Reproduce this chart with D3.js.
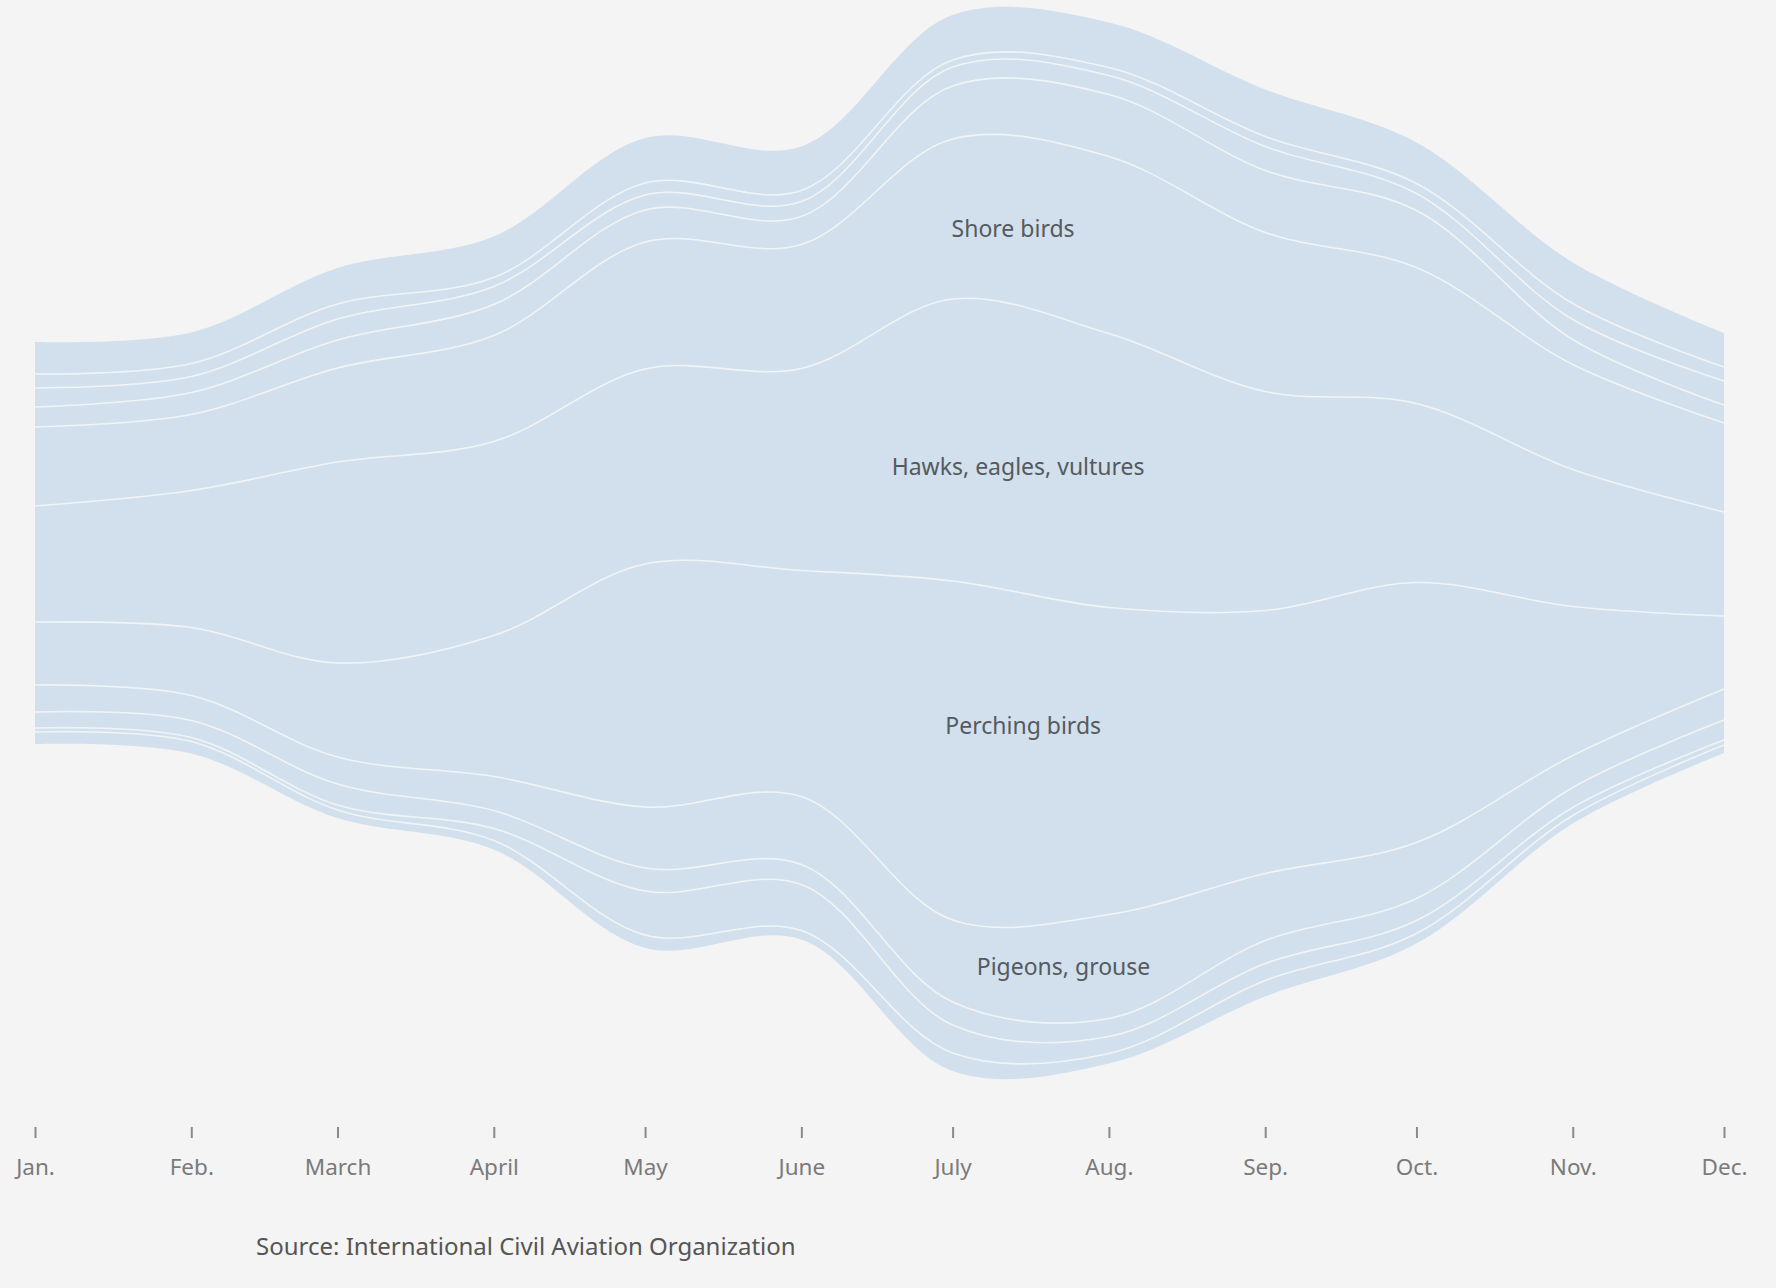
<!DOCTYPE html>
<html>
<head>
<meta charset="utf-8">
<script src="https://cdn.jsdelivr.net/npm/d3@7"></script>
<style>
  html, body { margin: 0; padding: 0; background: #f4f4f4; }
  svg { display: block; }
</style>
</head>
<body>
<svg id="chart" width="1776" height="1288"></svg>
<script>
// ---- DATA (monthly, stacked from bottom layer to top layer) ----
const monthLabels = ["Jan.", "Feb.", "March", "April", "May", "June", "July", "Aug.", "Sep.", "Oct.", "Nov.", "Dec."];
const monthDates = monthLabels.map((_, i) => new Date(2016, i, 1));

const seriesNames = ["Other A", "Other B", "Other C", "Pigeons, grouse", "Perching birds",
                     "Hawks, eagles, vultures", "Shore birds", "Other D", "Other E", "Other F", "Other G"];

const otherA   = [12, 12,  8,  9, 13,  9, 18, 10, 16, 10,  8,  8];
const otherB   = [ 4,  4,  5, 12, 44, 46, 28, 17, 17, 13,  8,  5];
const otherC   = [16, 17, 21, 18, 23, 20, 23, 18, 23, 22, 20, 20];
const pigeons  = [27, 25, 27, 34, 61, 68, 82, 104, 67, 56, 32, 31];
const perching = [63, 68, 94, 141, 243, 226, 339, 307, 263, 260, 149, 73];
const hawks    = [116, 137, 201, 194, 195, 202, 282, 274, 219, 179, 137, 104];
const shore    = [79, 76, 94, 106, 127, 124, 160, 177, 159, 136, 105, 89];
const otherD   = [20, 22, 28, 31, 32, 28, 53, 62, 62, 57, 25, 18];
const otherE   = [19, 16, 21, 18, 15, 15, 19, 19, 24, 17, 20, 24];
const otherF   = [14, 13, 15,  9, 12, 11,  7,  8, 10, 10, 16, 14];
const otherG   = [32, 31, 36, 41, 45, 44, 45, 45, 47, 41, 41, 34];

const seriesValues = [otherA, otherB, otherC, pigeons, perching, hawks, shore, otherD, otherE, otherF, otherG];

const layerLabels = ["Shore birds", "Hawks, eagles, vultures", "Perching birds", "Pigeons, grouse"];
const sourceText = "Source: International Civil Aviation Organization";

// ---- BUILD TABLE ----
const table = monthDates.map((d, i) => {
  const row = { date: d };
  seriesNames.forEach((n, k) => { row[n] = seriesValues[k][i]; });
  return row;
});

// ---- LAYOUT ----
const svg = d3.select("#chart");
const centerY = 543;

const x = d3.scaleTime()
  .domain([monthDates[0], monthDates[monthDates.length - 1]])
  .range([35, 1724]);

const y = d3.scaleLinear()
  .domain([-543, 543])
  .range([centerY + 543, centerY - 543]);

const stack = d3.stack()
  .keys(seriesNames)
  .order(d3.stackOrderNone)
  .offset(d3.stackOffsetSilhouette);
const layers = stack(table);

const curve = d3.curveCatmullRom.alpha(0.5);

const area = d3.area()
  .x(d => x(d.data.date))
  .y0(d => y(d[0]))
  .y1(d => y(d[1]))
  .curve(curve);

const topLine = d3.line()
  .x(d => x(d.data.date))
  .y(d => y(d[1]))
  .curve(curve);

const fillColor = "#d1e0ec";
const sepColor = "#f0f4f7";

svg.append("g").selectAll("path")
  .data(layers)
  .join("path")
  .attr("d", area)
  .attr("fill", fillColor);

// interior separators (top boundary of every layer except the topmost)
svg.append("g").selectAll("path")
  .data(layers.slice(0, layers.length - 1))
  .join("path")
  .attr("d", topLine)
  .attr("fill", "none")
  .attr("stroke", sepColor)
  .attr("stroke-width", 1.6);

// ---- LAYER LABELS ----
const labelFont = "'Noto Sans', 'Open Sans', sans-serif";
const labelPos = {
  "Shore birds": { date: new Date(2016, 6, 13), y: 237 },
  "Hawks, eagles, vultures": { date: new Date(2016, 6, 14), y: 475 },
  "Perching birds": { date: new Date(2016, 6, 15), y: 734 },
  "Pigeons, grouse": { date: new Date(2016, 6, 23), y: 975 }
};
svg.append("g").selectAll("text")
  .data(layerLabels)
  .join("text")
  .attr("x", d => x(labelPos[d].date))
  .attr("y", d => labelPos[d].y)
  .attr("text-anchor", "middle")
  .attr("font-family", labelFont)
  .attr("font-size", 23)
  .attr("fill", "#555a5f")
  .text(d => d);

// ---- AXIS ----
const axis = d3.axisBottom(x)
  .tickValues(monthDates)
  .tickFormat((d, i) => monthLabels[i])
  .tickSize(11)
  .tickPadding(21);

const gAxis = svg.append("g")
  .attr("transform", "translate(0,1127)")
  .call(axis);
gAxis.select(".domain").remove();
gAxis.selectAll(".tick line").attr("stroke", "#8a8a8a").attr("stroke-width", 2);
gAxis.selectAll(".tick text")
  .attr("font-family", labelFont)
  .attr("font-size", 22.5)
  .attr("fill", "#7a7a7a");

// ---- SOURCE ----
svg.append("text")
  .attr("x", 256)
  .attr("y", 1255)
  .attr("font-family", labelFont)
  .attr("font-size", 24)
  .attr("fill", "#555555")
  .text(sourceText);
</script>
</body>
</html>
